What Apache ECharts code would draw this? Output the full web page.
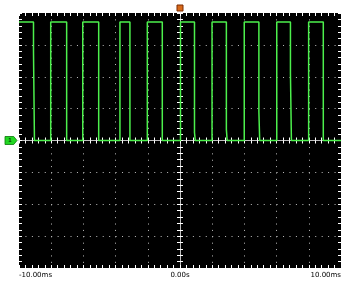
<!DOCTYPE html>
<html>
<head>
<meta charset="utf-8">
<script src="https://cdn.jsdelivr.net/npm/echarts@6/dist/echarts.min.js"></script>
<style>
html,body{margin:0;padding:0;background:#fff;}
#c{width:360px;height:282px;}
</style>
</head>
<body>
<div id="c"></div>
<script>
// Time axis (ms) and vertical axis (divisions)
const timeMin = -10, timeMax = 10, timeStep = 2;
const divMin = -4, divMax = 4, divStep = 1;
const timeLabels = {'-10': '-10.00ms', '0': '0.00s', '10': '10.00ms'};

// Channel 1 trace: time (ms) and level (divisions)
const traceTime = [-10, -9.1, -9.1, -9.04, -9.04, -8.03, -8.03, -7.04, -7.04, -6.04, -6.04, -5.05, -5.05,
  -3.73, -3.73, -3.11, -3.11, -2.03, -2.03, -1.1, -1.1, 0.03, 0.03, 0.9, 0.9, 0.95, 0.95,
  1.99, 1.99, 2.88, 2.88, 2.93, 2.93, 3.99, 3.99, 4.9, 4.9, 4.95, 4.95,
  6.01, 6.01, 6.86, 6.86, 6.92, 6.92, 7.99, 7.99, 8.9, 8.9, 10];
const traceLevel = [3.72, 3.72, 2.8, 2.75, 0, 0, 3.72, 3.72, 0, 0, 3.72, 3.72, 0,
  0, 3.72, 3.72, 0, 0, 3.72, 3.72, 0, 0, 3.72, 3.72, 0.25, 0.25, 0,
  0, 3.72, 3.72, 0.35, 0.35, 0, 0, 3.72, 3.72, 0.9, 0.9, 0,
  0, 3.72, 3.72, 2.1, 2.1, 0, 0, 3.72, 3.72, 0, 0];

// Markers: channel ground reference and trigger position
const groundMarker = [timeMin, 0];
const triggerMarker = [0, divMax];

const traceData = traceTime.map((t, i) => [t, traceLevel[i]]);

const dotX = [1, 5.44];
const dotY = [1, 5.38];
const tickColor = '#ffffff';

function xAx(extra) {
  return Object.assign({
    type: 'value', min: timeMin, max: timeMax, interval: timeStep,
    axisLine: {show: false, onZero: false},
    axisTick: {show: true, inside: true, length: 3, lineStyle: {color: tickColor, width: 1}},
    minorTick: {show: true, splitNumber: 5, length: 3, lineStyle: {color: tickColor, width: 1}},
    axisLabel: {show: false},
    splitLine: {show: false},
    minorSplitLine: {show: false}
  }, extra);
}
function yAx(extra) {
  return Object.assign({
    type: 'value', min: divMin, max: divMax, interval: divStep,
    axisLine: {show: false, onZero: false},
    axisTick: {show: true, inside: true, length: 3, lineStyle: {color: tickColor, width: 1}},
    minorTick: {show: true, splitNumber: 5, length: 3, lineStyle: {color: tickColor, width: 1}},
    axisLabel: {show: false},
    splitLine: {show: false},
    minorSplitLine: {show: false}
  }, extra);
}

const chart = echarts.init(document.getElementById('c'), null, {renderer: 'canvas'});
chart.setOption({
  animation: false,
  backgroundColor: '#ffffff',
  grid: {left: 19, right: 19, top: 13, bottom: 14, show: true, backgroundColor: '#000000', borderWidth: 0},
  xAxis: [
    xAx({position: 'bottom',
      splitLine: {show: true, showMinLine: false, showMaxLine: false,
        lineStyle: {color: '#bdbdbd', width: 1, type: dotY}},
      axisLabel: {show: true, margin: 4, color: '#000', fontSize: 7, fontFamily: 'DejaVu Sans',
        alignMinLabel: 'left', alignMaxLabel: 'right',
        formatter: v => timeLabels[String(Math.round(v))] || ''}}),
    xAx({position: 'top'}),
    xAx({position: 'bottom', axisLine: {show: true, onZero: true, onZeroAxisIndex: 0, lineStyle: {color: '#bdbdbd', width: 1}}}),
    xAx({position: 'bottom', axisTick: {show: true, inside: false, length: 3, lineStyle: {color: tickColor}},
      axisLine: {show: false, onZero: true, onZeroAxisIndex: 0}})
  ],
  yAxis: [
    yAx({position: 'left',
      splitLine: {show: true, showMinLine: false, showMaxLine: false,
        lineStyle: {color: '#bdbdbd', width: 1, type: dotX}}}),
    yAx({position: 'right'}),
    yAx({position: 'left', axisLine: {show: true, onZero: true, onZeroAxisIndex: 0, lineStyle: {color: '#bdbdbd', width: 1}}}),
    yAx({position: 'left', axisTick: {show: true, inside: false, length: 3, lineStyle: {color: tickColor}},
      axisLine: {show: false, onZero: true, onZeroAxisIndex: 0}})
  ],
  series: [{
    type: 'line',
    xAxisIndex: 0, yAxisIndex: 0,
    data: traceData,
    showSymbol: false,
    symbol: 'none',
    lineStyle: {color: '#4cf04c', width: 1.5},
    z: 5,
    markPoint: {
      silent: true,
      data: [
        {coord: groundMarker, symbol: 'path://M0,0 L8,0 L11,3.5 L8,7 L0,7 Z', symbolSize: [12, 8],
          symbolOffset: [-8, 0], itemStyle: {color: '#22d622', borderColor: '#0a7a0a', borderWidth: 0.8},
          label: {show: true, formatter: '1', color: '#053005', fontSize: 6, fontWeight: 'bold', offset: [-1, 0]}},
        {coord: triggerMarker, symbol: 'rect', symbolSize: [6, 6], symbolOffset: [0, -5],
          itemStyle: {color: '#d86a1a', borderColor: '#7a2a00', borderWidth: 1},
          label: {show: false}}
      ]
    }
  }]
});
</script>
</body>
</html>
